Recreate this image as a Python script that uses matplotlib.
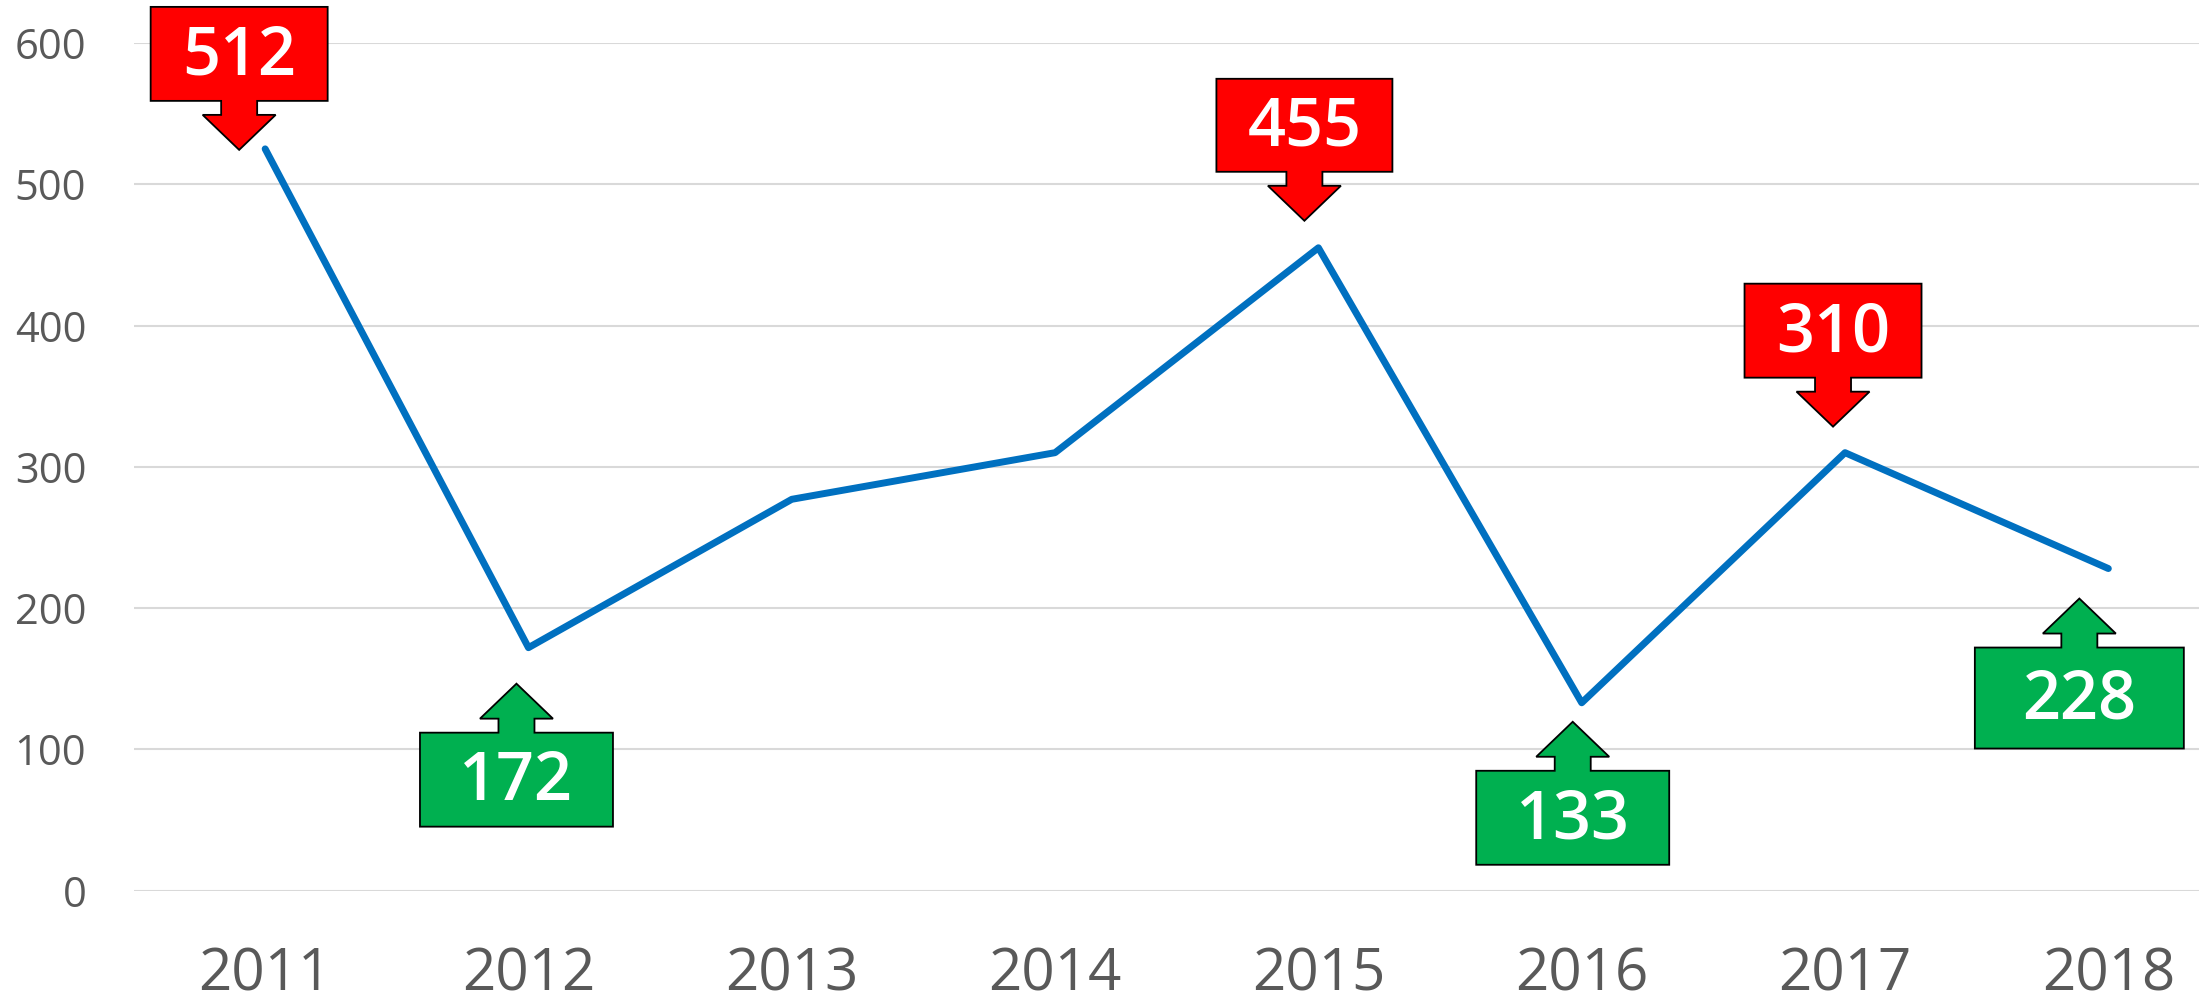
import matplotlib
matplotlib.use("Agg")
import matplotlib.pyplot as plt
import matplotlib.transforms as mtransforms
from matplotlib.patches import Polygon

years = ['2011', '2012', '2013', '2014', '2015', '2016', '2017', '2018']
values = [525, 172, 277, 310, 455, 133, 310, 228]

high_idx = [0, 4, 6]
high_labels = ['512', '455', '310']
low_idx = [1, 5, 7]
low_labels = ['172', '133', '228']

DPI = 100
fig = plt.figure(figsize=(21.99, 10.02), dpi=DPI)
W, H = 2199, 1002
left_px, right_px, top_px, bot_px = 133.5, 2240, 42.9, 890.7
ax = fig.add_axes([left_px / W, 1 - bot_px / H, (right_px - left_px) / W, (bot_px - top_px) / H])

x = list(range(len(years)))
ax.plot(x, values, color='#0070c0', lw=5, solid_capstyle='round', solid_joinstyle='round', zorder=3)

ax.set_xlim(-0.5, len(years) - 0.5)
ax.set_ylim(0, 600)
ax.set_yticks(range(0, 601, 100))
ax.set_xticks(x)
ax.set_xticklabels(years)
ax.grid(axis='y', color='#d9d9d9', lw=1.5)
ax.set_axisbelow(True)
for s in ax.spines.values():
    s.set_visible(False)
ax.tick_params(axis='both', length=0)
ax.tick_params(axis='y', labelsize=30, labelcolor='#595959', pad=34)
ax.tick_params(axis='x', labelsize=42, labelcolor='#595959', pad=40)
for lab in ax.get_xticklabels() + ax.get_yticklabels():
    lab.set_family('Open Sans')

# callout layout (pixels): tip offset dx, dy (y up), box width, box height
high_layout = [(-26, -1, 177, 94), (-14, 27, 176, 93), (-12, 26, 177, 94)]
low_layout = [(-12, -36, 193, 94), (-9, -19, 193, 94), (-29, -30, 209, 101)]

STEM_HALF, HEAD_HALF, HEAD_H, STEM_L = 18, 36.5, 35, 14
TEXT_RAISE = 5


def callout(i, text, lay, direction, color):
    tx, ty, bw, bh = lay
    s = direction  # +1: box above (arrow points down); -1: box below (arrow points up)
    yh = ty + s * HEAD_H
    yb = yh + s * STEM_L
    yt = yb + s * bh
    pts = [(tx - bw / 2, yb), (tx - STEM_HALF, yb), (tx - STEM_HALF, yh), (tx - HEAD_HALF, yh),
           (tx, ty), (tx + HEAD_HALF, yh), (tx + STEM_HALF, yh), (tx + STEM_HALF, yb),
           (tx + bw / 2, yb), (tx + bw / 2, yt), (tx - bw / 2, yt)]
    pts = [(px / DPI, py / DPI) for px, py in pts]
    tr = fig.dpi_scale_trans + mtransforms.ScaledTranslation(x[i], values[i], ax.transData)
    poly = Polygon(pts, closed=True, facecolor=color, edgecolor='black', lw=1.3,
                   transform=tr, clip_on=False, zorder=4)
    ax.add_patch(poly)
    ax.text(tx / DPI, ((yb + yt) / 2 + TEXT_RAISE) / DPI, text, transform=tr, ha='center',
            va='center_baseline', color='white', fontsize=48, family='Open Sans',
            fontweight='semibold', zorder=5, clip_on=False)


for i, t, lay in zip(high_idx, high_labels, high_layout):
    callout(i, t, lay, 1, '#ff0000')
for i, t, lay in zip(low_idx, low_labels, low_layout):
    callout(i, t, lay, -1, '#00b050')

fig.savefig('out.png', dpi=DPI)
